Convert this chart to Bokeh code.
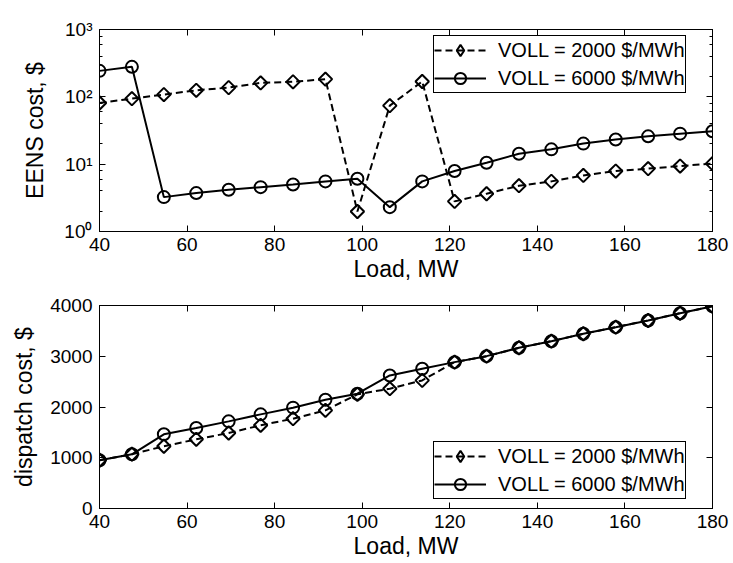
import math
from bokeh.plotting import figure
from bokeh.layouts import column
from bokeh.models import (LinearAxis, LogAxis, Legend, LegendItem, FixedTicker,
                          LogTicker, Range1d, ColumnDataSource, CustomLabelingPolicy)
from bokeh.embed import file_html
from bokeh.resources import INLINE

# ---------------- data ----------------
load_mw = [40, 47.4, 54.7, 62.1, 69.5, 76.8, 84.2, 91.6, 98.9, 106.3,
           113.7, 121.1, 128.4, 135.8, 143.2, 150.5, 157.9, 165.3, 172.6, 180]
eens_voll2000 = [81, 94, 108, 125, 137, 161, 167, 183, 1.98, 74,
                 169, 2.8, 3.64, 4.79, 5.55, 6.81, 7.9, 8.58, 9.37, 10.2]
eens_voll6000 = [243, 279, 3.24, 3.72, 4.17, 4.56, 5.0, 5.55, 6.08, 2.30,
                 5.55, 7.9, 10.5, 14.3, 16.6, 20.2, 23.2, 25.9, 28.4, 30.8]
dispatch_voll2000 = [950, 1070, 1226, 1363, 1487, 1639, 1770, 1934, 2250, 2361,
                     2524, 2884, 3002, 3167, 3297, 3443, 3573, 3705, 3848, 3986]
dispatch_voll6000 = [950, 1068, 1462, 1586, 1717, 1855, 1987, 2144, 2262, 2622,
                     2754, 2884, 3002, 3167, 3297, 3443, 3573, 3705, 3848, 3986]

x_ticks = [40, 60, 80, 100, 120, 140, 160, 180]
dispatch_ticks = [0, 1000, 2000, 3000, 4000]
log_tick_labels = {1: "10\u2070", 10: "10\u00b9", 100: "10\u00b2", 1000: "10\u00b3"}
series_labels = ["VOLL = 2000 $/MWh", "VOLL = 6000 $/MWh"]
x_label = "Load, MW"
eens_label = "EENS cost, $"
dispatch_label = "dispatch cost, $"

FONT = "Liberation Sans"


def style_axis(ax, show_labels=True, minor=False):
    ax.axis_line_color = "black"
    ax.axis_line_width = 1
    ax.major_tick_line_color = "black"
    ax.major_tick_in = 6
    ax.major_tick_out = 0
    if minor:
        ax.minor_tick_line_color = "black"
        ax.minor_tick_in = 3
        ax.minor_tick_out = 0
    else:
        ax.minor_tick_line_color = None
    ax.major_label_text_font = FONT
    ax.major_label_text_color = "black"
    if show_labels:
        ax.major_label_text_font_size = "19px"
    else:
        ax.major_label_text_font_size = "1px"
        ax.major_label_standoff = 0
        ax.major_label_policy = CustomLabelingPolicy(code="return []")
    ax.axis_label_text_font = FONT
    ax.axis_label_text_font_style = "normal"
    ax.axis_label_text_font_size = "23px"
    ax.axis_label_text_color = "black"


def make_fig(height, border_top, border_bottom, y_range, log):
    p = figure(width=733, height=height, output_backend="svg", toolbar_location=None,
               x_range=Range1d(40, 180), y_range=y_range,
               y_axis_type="log" if log else "linear",
               min_border_left=99, min_border_right=21,
               min_border_top=border_top, min_border_bottom=border_bottom)
    p.xgrid.visible = False
    p.ygrid.visible = False
    p.outline_line_color = "black"
    p.outline_line_alpha = 1
    p.background_fill_color = "white"
    p.border_fill_color = "white"
    bottom_ax = p.below[0]
    left_ax = p.left[0]
    bottom_ax.ticker = FixedTicker(ticks=x_ticks)
    style_axis(bottom_ax)
    style_axis(left_ax, minor=log)
    top_ax = LinearAxis(ticker=FixedTicker(ticks=x_ticks))
    style_axis(top_ax, show_labels=False)
    p.add_layout(top_ax, "above")
    if log:
        right_ax = LogAxis(ticker=LogTicker())
    else:
        right_ax = LinearAxis(ticker=FixedTicker(ticks=dispatch_ticks))
    style_axis(right_ax, show_labels=False, minor=log)
    p.add_layout(right_ax, "right")
    bottom_ax.axis_label = x_label
    bottom_ax.major_label_standoff = 6
    bottom_ax.axis_label_standoff = 2
    left_ax.major_label_standoff = 7
    return p, bottom_ax, left_ax


def add_series(p, y_dash, y_solid, legend_loc):
    src_d = ColumnDataSource(dict(x=load_mw, y=y_dash))
    src_s = ColumnDataSource(dict(x=load_mw, y=y_solid))
    ld = p.line("x", "y", source=src_d, line_color="black", line_width=2, line_dash="7 4")
    p.scatter("x", "y", source=src_d, marker="square", size=9.5, angle=math.pi / 4,
              line_color="black", line_width=2, fill_color=None)
    # diamond glyph used only for the legend swatch (hidden in the plot)
    md_leg = p.scatter("x", "y", source=src_d, marker="diamond", size=17,
                       line_color="black", line_width=2, fill_color=None)
    md_leg.visible = False
    ls = p.line("x", "y", source=src_s, line_color="black", line_width=2)
    ms = p.scatter("x", "y", source=src_s, marker="circle", size=12,
                   line_color="black", line_width=2, fill_color=None)
    legend = Legend(items=[LegendItem(label=series_labels[0], renderers=[ld, md_leg]),
                           LegendItem(label=series_labels[1], renderers=[ls, ms])],
                    location=legend_loc)
    legend.border_line_color = "black"
    legend.border_line_width = 1
    legend.border_line_alpha = 1
    legend.background_fill_alpha = 1
    legend.inactive_fill_alpha = 0
    legend.label_text_font = FONT
    legend.label_text_font_size = "20px"
    legend.label_text_color = "black"
    legend.glyph_width = 52
    legend.glyph_height = 28
    legend.label_height = 28
    legend.label_standoff = 12
    legend.padding = 0
    legend.spacing = 0
    legend.margin = 0
    p.add_layout(legend, "center")


# ---------------- top: EENS cost (log) ----------------
p1, b1, l1 = make_fig(290, 29, 59, Range1d(1, 1000), True)
l1.ticker = LogTicker()
l1.major_label_overrides = log_tick_labels
l1.axis_label = eens_label
l1.axis_label_standoff = 13
add_series(p1, eens_voll2000, eens_voll6000, (334, 138))

# ---------------- bottom: dispatch cost ----------------
p2, b2, l2 = make_fig(273, 15, 55, Range1d(0, 4000), False)
l2.ticker = FixedTicker(ticks=dispatch_ticks)
l2.axis_label = dispatch_label
l2.axis_label_standoff = 10
add_series(p2, dispatch_voll2000, dispatch_voll6000, (334, 9))

layout = column(p1, p2, spacing=0)
open("out.html", "w").write(file_html(layout, INLINE))
